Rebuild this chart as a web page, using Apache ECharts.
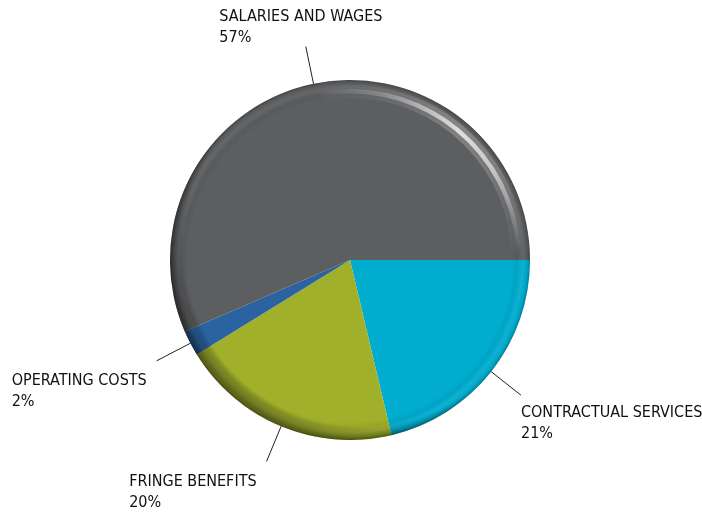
<!DOCTYPE html>
<html>
<head>
<meta charset="utf-8">
<script src="https://cdn.jsdelivr.net/npm/echarts@6/dist/echarts.min.js"></script>
<style>html,body{margin:0;padding:0;background:#fff}#c{width:702px;height:514px}</style>
</head>
<body>
<div id="c"></div>
<script>
// Data (clockwise from 3 o'clock)
var categories = ['CONTRACTUAL SERVICES', 'FRINGE BENEFITS', 'OPERATING COSTS', 'SALARIES AND WAGES'];
var values = [21.3, 19.9, 2.3, 56.5];
var colors = ['#00adcf', '#a0b02a', '#2a63a0', '#5d5e60'];

var CX = 350, CY = 260, R = 180;
var chart = echarts.init(document.getElementById('c'), null, {renderer: 'canvas'});

var pieData = categories.map(function (n, i) {
  return {name: n, value: values[i], itemStyle: {color: colors[i]}};
});

function glow(inner, outer, alpha) {
  var a0 = 100 * Math.PI / 180, a1 = 0;
  var x0 = CX + R * Math.cos(a0), y0 = CY - R * Math.sin(a0);
  var x1 = CX + R * Math.cos(a1), y1 = CY - R * Math.sin(a1);
  return {
    type: 'pie', silent: true, center: [CX, CY], radius: [R * inner, R * outer],
    startAngle: 100, endAngle: 0, clockwise: true,
    label: {show: false}, labelLine: {show: false},
    data: [{value: 1, name: '', itemStyle: {color: {
      type: 'linear', x: x0, y: y0, x2: x1, y2: y1, global: true,
      colorStops: [
        {offset: 0, color: 'rgba(255,255,255,0)'},
        {offset: 0.2, color: 'rgba(255,255,255,' + (alpha * 0.3) + ')'},
        {offset: 0.5, color: 'rgba(255,255,255,' + alpha + ')'},
        {offset: 0.7, color: 'rgba(255,255,255,' + (alpha * 0.75) + ')'},
        {offset: 0.95, color: 'rgba(255,255,255,0)'},
        {offset: 1, color: 'rgba(255,255,255,0)'}
      ]}}}]
  };
}

var series = [
  {
    type: 'pie',
    center: [CX, CY],
    radius: R,
    startAngle: 0,
    clockwise: true,
    percentPrecision: 0,
    avoidLabelOverlap: false,
    data: pieData,
    itemStyle: {borderWidth: 0},
    label: {
      show: true,
      position: 'outside',
      formatter: '{b}\n{d}%',
      fontFamily: 'DejaVu Sans Condensed, DejaVu Sans',
      fontSize: 16,
      lineHeight: 21,
      color: '#111111'
    },
    labelLine: {show: true, length: 38, length2: 0, smooth: false,
      lineStyle: {color: '#222222', width: 1}},
    labelLayout: function (p) {
      var pts = p.labelLinePoints;
      if (!pts) return {};
      var s = pts[0], e = pts[pts.length - 1];
      var w = p.labelRect.width, h = p.labelRect.height;
      var x, y;
      if (e[1] < s[1] && e[1] < CY) {
        x = e[0] - w * 0.53; y = e[1] - h + 2;
      } else if (e[0] > s[0]) {
        x = e[0]; y = e[1] + 7;
      } else {
        x = e[0] - w - 10; y = e[1] + 10;
      }
      return {x: x, y: y, align: 'left', verticalAlign: 'top', labelLinePoints: pts};
    }
  },
  {
    // rim shading overlay
    type: 'pie', silent: true, center: [CX, CY], radius: R, label: {show: false}, labelLine: {show: false},
    data: [{value: 1, name: '', itemStyle: {color: {
      type: 'radial', x: CX, y: CY, r: R, global: true,
      colorStops: [
        {offset: 0, color: 'rgba(0,0,0,0)'},
        {offset: 0.9, color: 'rgba(0,0,0,0)'},
        {offset: 0.93, color: 'rgba(0,0,0,0.06)'},
        {offset: 0.96, color: 'rgba(255,255,255,0.05)'},
        {offset: 0.985, color: 'rgba(0,0,0,0.06)'},
        {offset: 1, color: 'rgba(0,0,0,0.28)'}
      ]}}}]
  },
  {
    // left/bottom shadow overlay
    type: 'pie', silent: true, center: [CX, CY], radius: R, label: {show: false}, labelLine: {show: false},
    data: [{value: 1, name: '', itemStyle: {color: {
      type: 'radial', x: CX + 12, y: CY - 12, r: R + 12, global: true,
      colorStops: [
        {offset: 0, color: 'rgba(0,0,0,0)'},
        {offset: 0.93, color: 'rgba(0,0,0,0)'},
        {offset: 1, color: 'rgba(0,0,0,0.4)'}
      ]}}}]
  },
  // specular highlight on the upper-right rim
  glow(0.9, 0.975, 0.22),
  glow(0.925, 0.95, 0.75)
];

chart.setOption({animation: false, backgroundColor: '#ffffff', series: series});
</script>
</body>
</html>
